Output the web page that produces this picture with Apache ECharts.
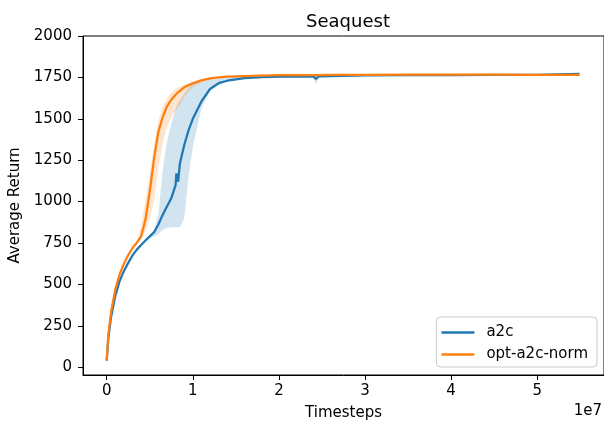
<!DOCTYPE html>
<html>
<head>
<meta charset="utf-8">
<script src="https://cdn.jsdelivr.net/npm/echarts@6/dist/echarts.min.js"></script>
<style>
html,body{margin:0;padding:0;background:#fff;}
#chart{width:604px;height:421px;}
</style>
</head>
<body>
<div id="chart"></div>
<script>
// Timesteps in units of 1e7
const timesteps = [0, 0.02, 0.05, 0.1, 0.15, 0.2, 0.25, 0.3, 0.35, 0.4,
  0.45, 0.5, 0.55, 0.6, 0.65, 0.7, 0.75, 0.8, 0.81, 0.83,
  0.85, 0.9, 0.95, 1.0, 1.1, 1.2, 1.3, 1.4, 1.6, 1.8,
  2.0, 2.4, 2.43, 2.46, 2.6, 3.0, 3.5, 4.0, 4.5, 5.0,
  5.49];

const a2cMean = [40, 180, 300, 430, 520, 580, 630, 675, 710, 738,
  765, 790, 815, 862, 920, 970, 1020, 1100, 1170, 1120,
  1230, 1340, 1430, 1500, 1605, 1680, 1715, 1730, 1745, 1751,
  1754, 1756, 1740, 1756, 1758, 1762, 1764, 1764, 1765, 1766,
  1772];
const a2cLow = [40, 178, 297, 427, 517, 577, 627, 672, 707, 735,
  760, 778, 790, 805, 830, 840, 845, 845, 845, 845,
  845, 900, 1150, 1330, 1560, 1670, 1710, 1725, 1740, 1747,
  1750, 1751, 1705, 1751, 1754, 1758, 1760, 1760, 1761, 1762,
  1768];
const a2cHigh = [40, 182, 303, 433, 523, 583, 633, 678, 713, 741,
  770, 800, 830, 920, 1190, 1360, 1470, 1560, 1575, 1595,
  1613, 1655, 1690, 1710, 1735, 1748, 1752, 1754, 1756, 1757,
  1758, 1760, 1758, 1760, 1762, 1766, 1768, 1768, 1769, 1770,
  1776];

const optMean = [40, 200, 330, 470, 560, 625, 677, 720, 752, 790,
  890, 1060, 1260, 1420, 1510, 1575, 1615, 1645, 1650, 1660,
  1670, 1690, 1703, 1714, 1732, 1744, 1750, 1754, 1758, 1761,
  1763, 1764, 1764, 1764, 1765, 1766, 1767, 1767, 1767, 1766,
  1766];
const optLow = [40, 198, 327, 467, 557, 622, 673, 715, 745, 772,
  820, 900, 1000, 1200, 1350, 1450, 1510, 1550, 1555, 1570,
  1585, 1630, 1665, 1690, 1720, 1738, 1746, 1750, 1754, 1757,
  1759, 1760, 1760, 1760, 1761, 1762, 1763, 1763, 1763, 1762,
  1762];
const optHigh = [40, 202, 333, 473, 563, 628, 681, 726, 765, 850,
  1010, 1170, 1340, 1490, 1570, 1620, 1660, 1680, 1683, 1688,
  1693, 1705, 1715, 1725, 1740, 1750, 1754, 1758, 1762, 1765,
  1767, 1768, 1768, 1768, 1769, 1770, 1771, 1771, 1771, 1770,
  1770];

const yTicks = [0, 250, 500, 750, 1000, 1250, 1500, 1750, 2000];
const xTicks = [0, 1, 2, 3, 4, 5];
const seriesNames = ['a2c', 'opt-a2c-norm'];
const colors = ['#1f77b4', '#ff7f0e'];
const bandColors = ['rgba(31,119,180,0.2)', 'rgba(255,127,14,0.2)'];

const FONT = 'DejaVu Sans';

function pairs(xs, ys) { return xs.map((x, i) => [x, ys[i]]); }

// Shaded min/max band drawn as one polygon through the chart's own coordinate system
function bandSeries(id, low, high, color) {
  const data = timesteps.map((x, i) => [x, low[i], high[i]]);
  return {
    id: id + '-band', type: 'custom', silent: true, z: 1,
    data: data,
    encode: { x: 0, y: [1, 2] },
    renderItem: function (params, api) {
      if (params.dataIndex !== 0) return null;
      const upper = data.map((d) => api.coord([d[0], d[2]]));
      const lower = data.map((d) => api.coord([d[0], d[1]])).reverse();
      return {
        type: 'polygon',
        shape: { points: upper.concat(lower) },
        style: { fill: color, stroke: null }
      };
    }
  };
}

const chart = echarts.init(document.getElementById('chart'), null, { renderer: 'canvas' });

const option = {
  animation: false,
  backgroundColor: '#ffffff',
  title: {
    text: 'Seaquest',
    left: 343, top: 8,
    textAlign: 'center',
    textStyle: { fontFamily: FONT, fontSize: 18, fontWeight: 'normal', color: '#000' }
  },
  grid: {
    left: 83, top: 36, width: 521, height: 339,
    outerBoundsMode: 'none', containLabel: false,
    show: true, borderColor: '#000', borderWidth: 1, backgroundColor: 'transparent'
  },
  legend: {
    data: seriesNames.map((n) => ({ name: n, icon: 'rect' })),
    orient: 'vertical',
    right: 7, bottom: 54,
    padding: [8, 9, 5, 5],
    itemWidth: 33, itemHeight: 2.5, itemGap: 7,
    borderColor: '#cccccc', borderWidth: 1, borderRadius: 4,
    backgroundColor: 'rgba(255,255,255,0.8)',
    textStyle: { fontFamily: FONT, fontSize: 15, lineHeight: 15, color: '#000', padding: [0, 0, 0, 7] }
  },
  xAxis: {
    type: 'value', min: -0.275, max: 5.775,
    name: 'Timesteps', nameLocation: 'middle', nameGap: 31,
    nameTextStyle: { fontFamily: FONT, fontSize: 15, color: '#000' },
    axisLine: { show: true, onZero: false, lineStyle: { color: '#000', width: 1 } },
    axisTick: { show: true, customValues: xTicks, length: 5, lineStyle: { color: '#000', width: 1 } },
    axisLabel: { customValues: xTicks, margin: 9, fontFamily: FONT, fontSize: 15, color: '#000',
      formatter: (v) => String(v) },
    splitLine: { show: false }
  },
  yAxis: {
    type: 'value', min: -47, max: 2000,
    name: 'Average Return', nameLocation: 'middle', nameGap: 54, nameRotate: 90,
    nameTextStyle: { fontFamily: FONT, fontSize: 15, color: '#000' },
    axisLine: { show: true, onZero: false, lineStyle: { color: '#000', width: 1 } },
    axisTick: { show: true, customValues: yTicks, length: 5, lineStyle: { color: '#000', width: 1 } },
    axisLabel: { customValues: yTicks, margin: 11, fontFamily: FONT, fontSize: 15, color: '#000',
      formatter: (v) => String(v) },
    splitLine: { show: false }
  },
  graphic: [
    {
      type: 'text', right: 2, top: 404,
      style: { text: '1e7', fontFamily: FONT, fontSize: 15, fill: '#000' }
    }
  ],
  series: [
    bandSeries('a2c', a2cLow, a2cHigh, bandColors[0]),
    bandSeries('opt', optLow, optHigh, bandColors[1]),
    {
      name: seriesNames[0], type: 'line', data: pairs(timesteps, a2cMean),
      symbol: 'none', color: colors[0], lineStyle: { width: 2.25, color: colors[0] }, z: 3
    },
    {
      name: seriesNames[1], type: 'line', data: pairs(timesteps, optMean),
      symbol: 'none', color: colors[1], lineStyle: { width: 2.25, color: colors[1] }, z: 4
    }
  ]
};

chart.setOption(option);
</script>
</body>
</html>
